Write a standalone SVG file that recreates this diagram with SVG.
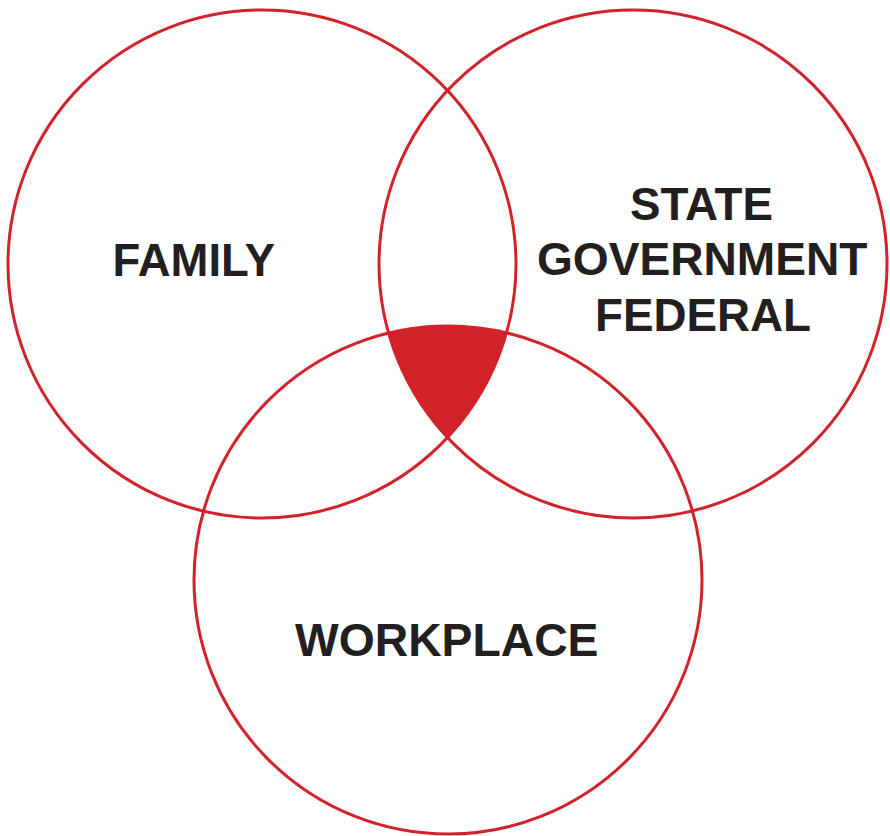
<svg xmlns="http://www.w3.org/2000/svg" width="890" height="836" viewBox="0 0 890 836">
<style>
.ring{fill:none;stroke:#d2232a;stroke-width:3}
.lbl{font-family:"Liberation Sans",Arial,sans-serif;font-weight:bold;font-size:47px;fill:#231f20}
</style>
<rect width="890" height="836" fill="#ffffff"/>
<g id="core">
<path d="M388.5 332.8 A254 254 0 0 1 506.5 332.8 A254 254 0 0 1 447.5 437.5 A254 254 0 0 1 388.5 332.8 Z" fill="#d2232a"/>
</g>
<g id="family">
<circle class="ring" cx="262" cy="264" r="254"/>
<text class="lbl" x="112.5" y="276" textLength="162.5" lengthAdjust="spacingAndGlyphs">FAMILY</text>
</g>
<g id="state">
<circle class="ring" cx="633" cy="264" r="254"/>
<text class="lbl" x="630" y="220" textLength="143" lengthAdjust="spacingAndGlyphs">STATE</text>
<text class="lbl" x="537" y="275" textLength="330.5" lengthAdjust="spacingAndGlyphs">GOVERNMENT</text>
<text class="lbl" x="595" y="331" textLength="216" lengthAdjust="spacingAndGlyphs">FEDERAL</text>
</g>
<g id="workplace">
<circle class="ring" cx="448" cy="580" r="254"/>
<text class="lbl" x="295" y="656" textLength="303.5" lengthAdjust="spacingAndGlyphs">WORKPLACE</text>
</g>
</svg>
